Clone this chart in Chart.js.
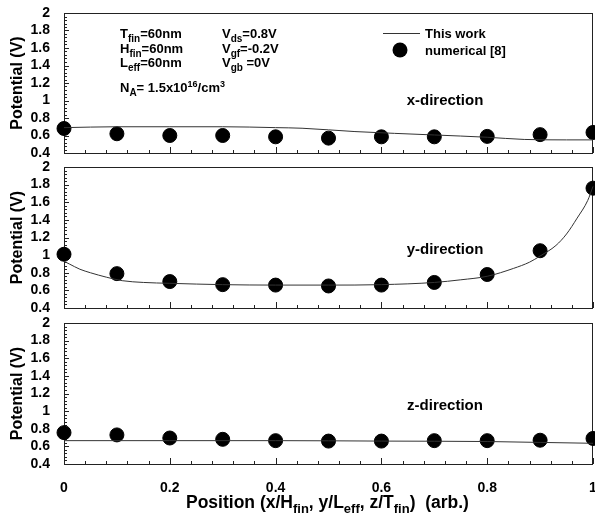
<!DOCTYPE html>
<html>
<head>
<meta charset="utf-8">
<script src="https://cdn.jsdelivr.net/npm/chart.js@4/dist/chart.umd.min.js"></script>
<style>
  html, body { margin: 0; padding: 0; background: #fff; }
  #wrap { position: relative; width: 595px; height: 517px; background: #fff; overflow: hidden; }
  #wrap canvas { position: absolute; left: 0; top: 0; }
</style>
</head>
<body>
<div id="wrap">
  <canvas id="c1" width="595" height="517"></canvas>
  <canvas id="c2" width="595" height="517"></canvas>
  <canvas id="c3" width="595" height="517"></canvas>
</div>
<script>
// ---- data ----
const positions = [0, 0.1, 0.2, 0.3, 0.4, 0.5, 0.6, 0.7, 0.8, 0.9, 1.0];

const xDirNumerical = [0.68, 0.62, 0.60, 0.60, 0.585, 0.57, 0.585, 0.585, 0.59, 0.61, 0.635];
const xDirModelX = [0, 0.1, 0.2, 0.3, 0.4, 0.45, 0.55, 0.7, 0.8, 0.87, 0.95, 1.0];
const xDirModelY = [0.69, 0.70, 0.70, 0.70, 0.69, 0.683, 0.645, 0.606, 0.58, 0.555, 0.55, 0.55];

const yDirNumerical = [1.01, 0.79, 0.70, 0.665, 0.66, 0.65, 0.66, 0.69, 0.78, 1.05, 1.76];
const yDirModelX = [0, 0.01, 0.03, 0.05, 0.08, 0.11, 0.15, 0.2, 0.3, 0.4, 0.5, 0.6, 0.7, 0.75, 0.8, 0.85, 0.88, 0.9, 0.93, 0.95, 0.97, 0.99, 1.0];
const yDirModelY = [0.93, 0.90, 0.84, 0.80, 0.75, 0.71, 0.69, 0.68, 0.665, 0.66, 0.66, 0.665, 0.69, 0.72, 0.76, 0.85, 0.92, 0.99, 1.11, 1.24, 1.42, 1.62, 1.78];

const zDirNumerical = [0.756, 0.73, 0.695, 0.68, 0.665, 0.66, 0.66, 0.665, 0.665, 0.67, 0.69];
const zDirModelX = [0, 0.2, 0.4, 0.6, 0.8, 0.9, 1.0];
const zDirModelY = [0.665, 0.665, 0.665, 0.66, 0.655, 0.645, 0.635];

const yTickMin = 0.4, yTickMax = 2.0, yTickStep = 0.2;
const xTickMin = 0, xTickMax = 1.0, xTickStep = 0.2;

const panelLabels = ['x-direction', 'y-direction', 'z-direction'];
const legendLabels = ['This work', 'numerical [8]'];
const yTitle = 'Potential (V)';

// ---- helpers ----
const FONT = 'Arial, "Liberation Sans", sans-serif';

function toPts(xs, ys) { return xs.map((x, i) => ({ x: x, y: ys[i] })); }

function rich(ctx, x, y, parts, size) {
  ctx.save();
  ctx.textAlign = 'left';
  ctx.textBaseline = 'alphabetic';
  ctx.fillStyle = '#000';
  let cx = x;
  for (const [txt, mode] of parts) {
    let s = size, dy = 0;
    if (mode === 'sub') { s = Math.round(size * 0.76); dy = size * 0.28; }
    if (mode === 'sup') { s = Math.round(size * 0.7); dy = -size * 0.42; }
    ctx.font = 'bold ' + s + 'px ' + FONT;
    ctx.fillText(txt, cx, y + dy);
    cx += ctx.measureText(txt).width;
  }
  ctx.restore();
}

const frameTicks = {
  id: 'frameTicks',
  beforeDatasetsDraw(chart) {
    const { ctx, chartArea: a, scales } = chart;
    const ys = scales.y, xs = scales.x;
    ctx.save();
    ctx.strokeStyle = '#222';
    ctx.lineWidth = 1;
    ctx.strokeRect(Math.round(a.left) + 0.5, Math.round(a.top) + 0.5,
                   Math.round(a.right - a.left) - 1, Math.round(a.bottom - a.top));
    ctx.beginPath();
    for (let i = 0; i <= 40; i++) {
      const v = yTickMin + i * 0.04;
      const py = Math.round(ys.getPixelForValue(v)) + 0.5;
      const len = (i % 5 === 0) ? 5 : 3;
      ctx.moveTo(a.left, py); ctx.lineTo(a.left + len, py);
    }
    for (let i = 0; i <= 25; i++) {
      const v = xTickMin + i * 0.04;
      const px = Math.round(xs.getPixelForValue(v)) + 0.5;
      const len = (i % 5 === 0) ? 6 : 3;
      ctx.moveTo(px, a.bottom); ctx.lineTo(px, a.bottom - len);
    }
    ctx.stroke();
    ctx.restore();
  }
};

const annotations = {
  id: 'annotations',
  afterDraw(chart) {
    const ctx = chart.ctx;
    const o = chart.options.plugins.annotations;
    ctx.save();
    ctx.fillStyle = '#000';
    ctx.font = 'bold 15px ' + FONT;
    ctx.textAlign = 'center';
    ctx.textBaseline = 'alphabetic';
    ctx.fillText(o.label, 445, o.labelY);
    ctx.restore();
    if (o.first) {
      rich(ctx, 120, 38, [['T', ''], ['fin', 'sub'], ['=60nm', '']], 13);
      rich(ctx, 120, 53, [['H', ''], ['fin', 'sub'], ['=60nm', '']], 13);
      rich(ctx, 120, 67, [['L', ''], ['eff', 'sub'], ['=60nm', '']], 13);
      rich(ctx, 120, 92, [['N', ''], ['A', 'sub'], ['= 1.5x10', ''], ['16', 'sup'], ['/cm', ''], ['3', 'sup']], 13);
      rich(ctx, 222, 38, [['V', ''], ['ds', 'sub'], ['=0.8V', '']], 13);
      rich(ctx, 222, 53, [['V', ''], ['gf', 'sub'], ['=-0.2V', '']], 13);
      rich(ctx, 222, 67, [['V', ''], ['gb', 'sub'], [' =0V', '']], 13);
      // legend
      ctx.save();
      ctx.strokeStyle = '#333'; ctx.lineWidth = 1;
      ctx.beginPath(); ctx.moveTo(383, 33.5); ctx.lineTo(420, 33.5); ctx.stroke();
      ctx.fillStyle = '#000';
      ctx.beginPath(); ctx.arc(400, 50, 7.5, 0, Math.PI * 2); ctx.fill();
      ctx.restore();
      rich(ctx, 425, 38, [[legendLabels[0], '']], 13);
      rich(ctx, 425, 55, [[legendLabels[1], '']], 13);
    }
    if (o.last) {
      rich(ctx, 186, 508, [['Position (x/H', ''], ['fin', 'sub'], [', y/L', ''], ['eff', 'sub'],
                           [', z/T', ''], ['fin', 'sub'], [')  (arb.)', '']], 17.5);
    }
  }
};

function makePanel(id, numerical, modelX, modelY, padTop, padBottom, isFirst, isLast, label, labelY) {
  return new Chart(document.getElementById(id), {
    type: 'scatter',
    data: {
      datasets: [
        {
          label: legendLabels[0],
          data: toPts(modelX, modelY),
          showLine: true,
          borderColor: '#333',
          borderWidth: 1,
          pointRadius: 0,
          cubicInterpolationMode: 'monotone',
          clip: false
        },
        {
          label: legendLabels[1],
          data: toPts(positions, numerical),
          showLine: false,
          pointRadius: 7,
          pointBorderWidth: 1,
          pointBackgroundColor: '#000',
          pointBorderColor: '#000',
          clip: false
        }
      ]
    },
    options: {
      responsive: false,
      animation: false,
      events: [],
      devicePixelRatio: 1,
      layout: { autoPadding: false, padding: { top: padTop, bottom: padBottom, left: 0, right: 2 } },
      plugins: {
        legend: { display: false },
        tooltip: { enabled: false },
        annotations: { first: isFirst, last: isLast, label: label, labelY: labelY }
      },
      scales: {
        x: {
          type: 'linear',
          display: isLast,
          min: xTickMin, max: xTickMax,
          grid: { display: false },
          border: { display: false },
          ticks: {
            stepSize: xTickStep,
            padding: 8,
            autoSkip: false,
            color: '#000',
            font: { family: FONT, size: 14, weight: 'bold' },
            maxRotation: 0,
            callback: v => String(+Number(v).toFixed(1))
          },
          afterFit: s => { if (isLast) { s.height = 53; } else { s.height = 0; } s.paddingLeft = 0; s.paddingRight = 0; }
        },
        y: {
          type: 'linear',
          min: yTickMin, max: yTickMax,
          grid: { display: false },
          border: { display: false },
          ticks: {
            stepSize: yTickStep,
            padding: 6,
            autoSkip: false,
            color: '#000',
            font: { family: FONT, size: 14, weight: 'bold', lineHeight: 1.0 },
            callback: v => String(+Number(v).toFixed(1))
          },
          title: {
            display: true,
            text: yTitle,
            color: '#000',
            font: { family: FONT, size: 16, weight: 'bold' },
            padding: { top: 8, bottom: 0 }
          },
          afterFit: s => { s.width = 64; s.paddingTop = 0; s.paddingBottom = 0; }
        }
      }
    },
    plugins: [frameTicks, annotations]
  });
}

makePanel('c1', xDirNumerical, xDirModelX, xDirModelY, 13, 517 - 153, true, false, panelLabels[0], 105);
makePanel('c2', yDirNumerical, yDirModelX, yDirModelY, 167, 517 - 308, false, false, panelLabels[1], 254);
makePanel('c3', zDirNumerical, zDirModelX, zDirModelY, 323, 0, false, true, panelLabels[2], 410);
</script>
</body>
</html>
